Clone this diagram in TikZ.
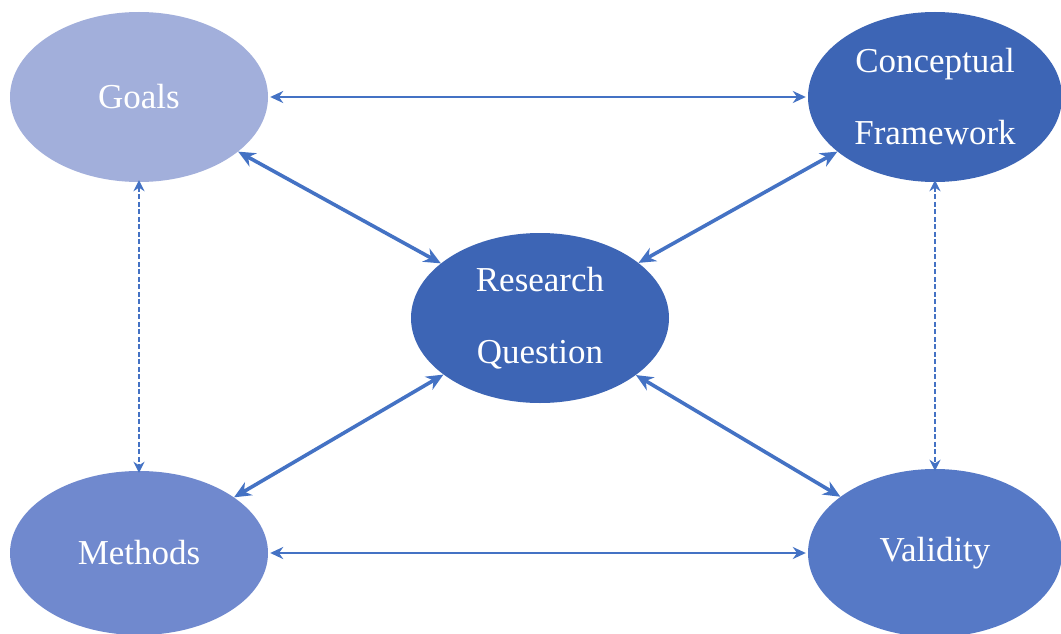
\documentclass[tikz,border=0pt]{standalone}
\usepackage{fontspec}
\setmainfont{Liberation Serif}
\usetikzlibrary{shapes.geometric,arrows.meta}
\definecolor{cgoal}{HTML}{A2AFDB}
\definecolor{cmeth}{HTML}{7089CE}
\definecolor{cval}{HTML}{5679C6}
\definecolor{cdark}{HTML}{3D65B5}
\definecolor{carrow}{HTML}{4472C4}
\begin{document}
\begin{tikzpicture}[x=1pt,y=-1pt,
  blob/.style={ellipse,inner sep=0pt,minimum width=258pt,minimum height=170pt,
    text=white,align=center,font=\fontsize{35}{72}\selectfont},
  thinarrow/.style={{Stealth[length=13pt,width=12pt]}-{Stealth[length=13pt,width=12pt]},line width=2.2pt,draw=carrow},
  thickarrow/.style={{Stealth[length=17pt,width=15pt]}-{Stealth[length=17pt,width=15pt]},line width=3.6pt,draw=carrow},
  dasharrow/.style={{Stealth[length=11pt,width=11pt]}-{Stealth[length=11pt,width=11pt]},line width=2.2pt,draw=carrow,dash pattern=on 5pt off 2.5pt}]
\fill[white] (0,0) rectangle (1061,634);
\useasboundingbox (0,0) rectangle (1061,634);
\begin{scope}
\clip (0,0) rectangle (1061,634);
\node[blob,fill=cgoal] (G) at (139,97) {Goals};
\node[blob,fill=cdark,minimum width=254pt] (C) at (935,97) {Conceptual\\Framework};
\node[blob,fill=cdark] (R) at (540,318) {Research\\Question};
\node[blob,fill=cmeth,minimum height=164pt] (M) at (139,553) {Methods};
\node[blob,fill=cval,minimum width=254pt,minimum height=168pt] (V) at (935,553) {Validity};
\end{scope}
\draw[thinarrow] ([xshift=2pt]G.east) -- ([xshift=-2pt]C.west);
\draw[thinarrow] ([xshift=2pt]M.east) -- ([xshift=-2pt]V.west);
\draw[thickarrow] (G) -- (R);
\draw[thickarrow] (C) -- (R);
\draw[thickarrow] (M) -- (R);
\draw[thickarrow] (V) -- (R);
\draw[dasharrow] ([yshift=2pt]G.south) -- ([yshift=-2pt]M.north);
\draw[dasharrow] ([yshift=2pt]C.south) -- ([yshift=-2pt]V.north);
\end{tikzpicture}
\end{document}
